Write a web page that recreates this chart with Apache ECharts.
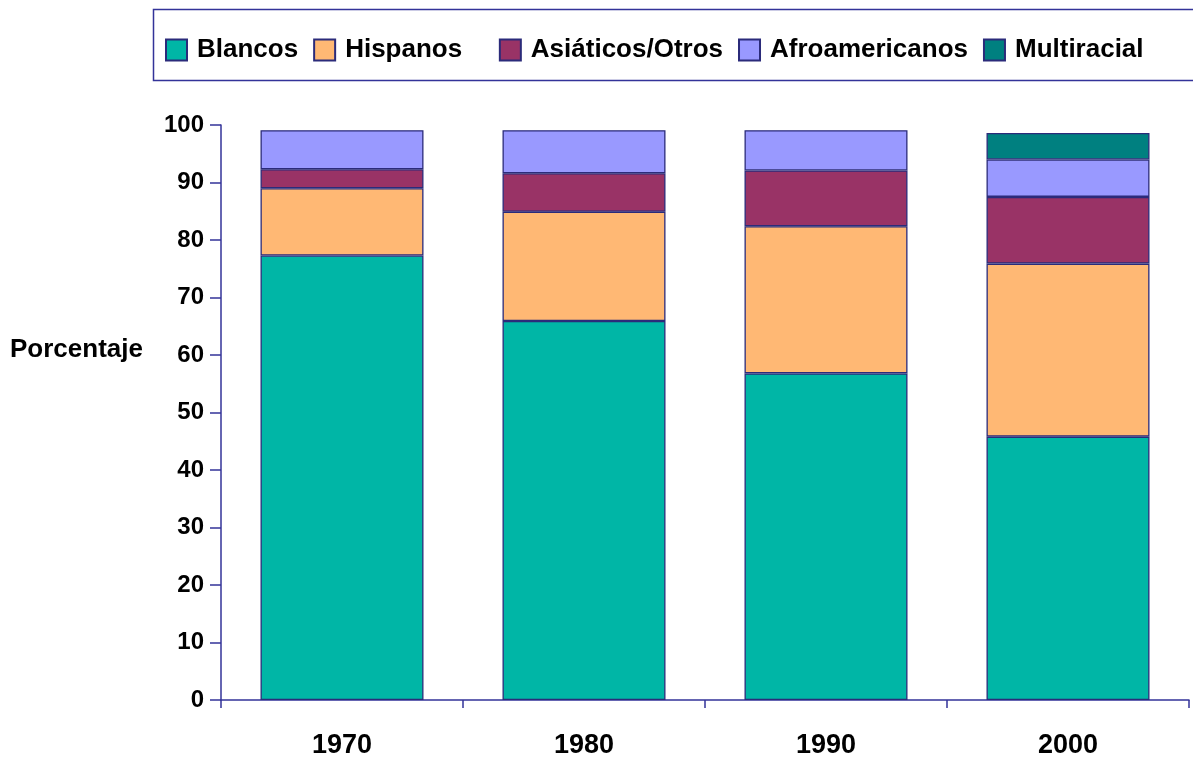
<!DOCTYPE html>
<html>
<head>
<meta charset="utf-8">
<script src="https://cdn.jsdelivr.net/npm/echarts@6/dist/echarts.min.js"></script>
<style>
html,body{margin:0;padding:0;background:#fff;}
#chart{width:1193px;height:759px;}
</style>
</head>
<body>
<div id="chart"></div>
<script>
const categories = ['1970', '1980', '1990', '2000'];
const seriesNames = ['Blancos', 'Hispanos', 'Asiáticos/Otros', 'Afroamericanos', 'Multiracial'];
const blancos = [77.3, 65.9, 56.8, 45.8];
const hispanos = [11.7, 19.0, 25.6, 30.1];
const asiaticos = [3.3, 6.7, 9.7, 11.6];
const afroamericanos = [6.8, 7.5, 7.0, 6.5];
const multiracial = [null, null, null, 4.6];
const yTicks = [0, 10, 20, 30, 40, 50, 60, 70, 80, 90, 100];
const yAxisTitle = 'Porcentaje';

const colors = ['#00B6A6', '#FFB874', '#993366', '#9999FF', '#008080'];
const navy = '#333399';
const barEdge = '#2B2B7A';
const FONT = '"Liberation Sans", Arial, sans-serif';
const values = [blancos, hispanos, asiaticos, afroamericanos, multiracial];

const chart = echarts.init(document.getElementById('chart'), null, {renderer: 'canvas'});
chart.setOption({
  animation: false,
  backgroundColor: '#fff',
  grid: {left: 221, right: 4, top: 125, bottom: 59, containLabel: false},
  legend: {
    left: 165, top: 37, padding: 0,
    itemWidth: 21, itemHeight: 21, itemGap: 15,
    icon: 'rect',
    data: seriesNames,
    formatter: n => n === 'Hispanos' ? n + '   ' : n,
    textStyle: {fontFamily: FONT, fontWeight: 'bold', fontSize: 26, color: '#000', padding: [0, 0, 0, 5]}
  },
  graphic: [
    {type: 'rect', shape: {x: 153.5, y: 9.5, width: 1100, height: 71}, style: {fill: 'none', stroke: navy, lineWidth: 1.5}, silent: true},
    {type: 'text', left: 10, top: 337, style: {text: yAxisTitle, font: 'bold 26px ' + FONT, fill: '#000'}}
  ],
  xAxis: {
    type: 'category', data: categories,
    axisLine: {lineStyle: {color: navy, width: 1.5}},
    axisTick: {show: true, length: 8, lineStyle: {color: navy, width: 1.5}},
    axisLabel: {margin: 32, fontFamily: FONT, fontWeight: 'bold', fontSize: 27, color: '#000'},
    splitLine: {show: false}
  },
  yAxis: {
    type: 'value', min: 0, max: 100, interval: 10,
    axisLine: {show: true, lineStyle: {color: navy, width: 1.5}},
    axisTick: {show: true, length: 11, lineStyle: {color: navy, width: 1.5}},
    axisLabel: {margin: 17, fontFamily: FONT, fontWeight: 'bold', fontSize: 24, color: '#000',
      formatter: v => yTicks.includes(v) ? String(v) : ''},
    splitLine: {show: false}
  },
  series: seriesNames.map((name, i) => ({
    name, type: 'bar', stack: 'total', barWidth: 163,
    data: values[i],
    itemStyle: {color: colors[i], borderColor: barEdge, borderWidth: 1.3}
  }))
});
</script>
</body>
</html>
